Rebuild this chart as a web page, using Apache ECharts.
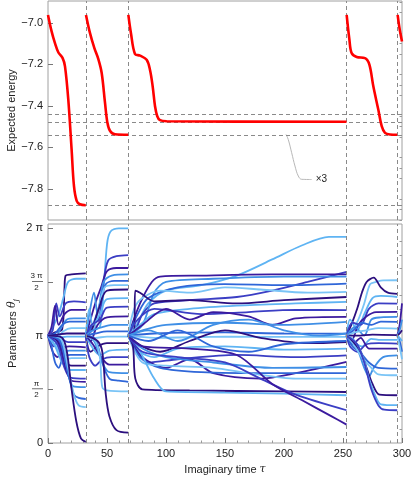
<!DOCTYPE html>
<html>
<head>
<meta charset="utf-8">
<script src="https://cdn.jsdelivr.net/npm/echarts@6/dist/echarts.min.js"></script>
<style>html,body{margin:0;padding:0;background:#fff}#c{width:415px;height:481px}</style>
</head>
<body>
<div id="c"></div>
<script>
// ---------- data ----------
const xTicks = [0, 50, 100, 150, 200, 250, 300];
const energyTicks = [-7.8, -7.6, -7.4, -7.2, -7.0];
const energyMinorTicks = [-7.95,-7.9,-7.85,-7.75,-7.7,-7.65,-7.55,-7.5,-7.45,-7.35,-7.3,-7.25,-7.15,-7.1,-7.05,-6.95,-6.9];
const thetaTicks = [0, 0.5, 1, 1.5, 2];           // in units of pi
const thetaMinorTicks = [0.125,0.25,0.375,0.625,0.75,0.875,1.125,1.25,1.375,1.625,1.75,1.875];
const restartTimes = [32, 68, 253, 296];
const energyLevels = [-7.438, -7.477, -7.539, -7.88];

const energy1 = [[0,-6.962],[3,-7.04],[5.9,-7.098],[8.8,-7.143],[12.4,-7.17],[14.4,-7.21],[17.2,-7.37],[20,-7.61],[22,-7.786],[24.3,-7.858],[27,-7.874],[32,-7.879]];
const energy2 = [[32.2,-6.962],[35.6,-7.05],[39.3,-7.122],[42.6,-7.174],[45.5,-7.242],[48.3,-7.385],[50.3,-7.48],[52.5,-7.52],[56.8,-7.537],[68,-7.539]];
const energy3 = [[68.1,-6.962],[70.3,-7.05],[73.7,-7.15],[78,-7.158],[83.6,-7.178],[86.4,-7.226],[88.7,-7.306],[90.7,-7.402],[92.6,-7.45],[94.9,-7.469],[100.6,-7.474],[253,-7.477]];
const energy4 = [[253.1,-6.962],[255.4,-7.08],[257.3,-7.146],[261.6,-7.165],[268.6,-7.17],[272.3,-7.2],[275.7,-7.306],[279.9,-7.418],[282.8,-7.498],[285.6,-7.53],[289.8,-7.538],[296,-7.539]];
const energy5 = [[296.3,-6.962],[298,-7.03],[300,-7.09]];
const calloutPath = [[201.7,-7.538],[203.6,-7.562],[206.5,-7.626],[209.3,-7.69],[212.1,-7.738],[215,-7.754],[223.5,-7.755]];
const calloutText = '×3';

const theta1 = [
 [[0,1],[6,1.03],[12,1.06],[14,1.45],[15,1.56],[20,1.57],[32,1.58]],
 [[0,1],[5,1.1],[9,1.2],[13,1.35],[17,1.5],[24,1.53],[32,1.53]],
 [[0,1],[4,1.05],[7,1.3],[10,1.18],[15,1.3],[22,1.32],[32,1.31]],
 [[0,1],[3,1.08],[6,1.28],[9,1.1],[14,1.2],[20,1.24],[32,1.24]],
 [[0,1],[5,0.95],[10,1.05],[16,1.15],[22,1.16],[32,1.16]],
 [[0,1],[6,1.02],[12,1.1],[18,1.13],[32,1.13]],
 [[0,1],[7,0.97],[13,1.04],[20,1.07],[32,1.07]],
 [[0,1],[8,1.01],[16,1.02],[32,1.02]],
 [[0,1],[8,0.98],[16,0.99],[32,0.99]],
 [[0,1],[5,0.9],[10,0.97],[17,0.94],[32,0.94]],
 [[0,1],[4,0.85],[8,0.8],[12,0.88],[18,0.9],[32,0.89]],
 [[0,1],[6,0.95],[12,0.85],[18,0.86],[32,0.86]],
 [[0,1],[3,0.9],[6,0.75],[9,0.7],[13,0.8],[19,0.82],[32,0.82]],
 [[0,1],[7,0.9],[14,0.78],[20,0.79],[32,0.79]],
 [[0,1],[8,0.95],[14,0.76],[20,0.72],[32,0.72]],
 [[0,1],[6,0.9],[12,0.75],[18,0.68],[32,0.68]],
 [[0,1],[8,0.92],[14,0.7],[19,0.61],[32,0.6]],
 [[0,1],[9,0.95],[15,0.7],[20,0.58],[32,0.57]],
 [[0,1],[10,0.97],[16,0.7],[21,0.53],[32,0.52]],
 [[0,1],[10,0.95],[17,0.65],[22,0.45],[26,0.42],[32,0.41]],
 [[0,1],[11,0.97],[17,0.7],[22,0.45],[26,0.35],[32,0.335]],
 [[0,1],[12,0.98],[16,0.85],[20,0.5],[24,0.2],[28,0.04],[32,0.01]]
];
const theta2 = [
 [[32,1],[38,1.05],[44,1.08],[47,1.4],[50,1.85],[53,1.97],[60,2.0],[68,2.0]],
 [[32,1],[37,1.1],[43,1.15],[47,1.5],[51,1.7],[58,1.74],[68,1.75]],
 [[32,1],[36,1.15],[40,1.3],[45,1.45],[50,1.6],[58,1.63],[68,1.63]],
 [[32,1],[35,1.2],[39,1.4],[42,1.2],[47,1.5],[54,1.56],[68,1.57]],
 [[32,1],[38,1.1],[44,1.3],[49,1.48],[56,1.51],[68,1.51]],
 [[32,1],[36,0.95],[42,1.2],[48,1.45],[56,1.47],[68,1.47]],
 [[32,1],[37,1.05],[43,1.25],[50,1.42],[68,1.43]],
 [[32,1],[35,1.25],[38,1.1],[44,1.2],[50,1.34],[68,1.35]],
 [[32,1],[37,1.1],[44,1.15],[50,1.26],[68,1.27]],
 [[32,1],[36,0.95],[42,1.1],[50,1.17],[68,1.18]],
 [[32,1],[38,1.05],[46,1.08],[54,1.1],[68,1.1]],
 [[32,1],[40,1.02],[50,1.04],[68,1.04]],
 [[32,1],[40,0.98],[50,0.99],[68,0.99]],
 [[32,1],[36,0.85],[42,0.9],[50,0.93],[68,0.93]],
 [[32,1],[37,0.9],[44,0.82],[52,0.86],[68,0.87]],
 [[32,1],[35,0.8],[40,0.72],[46,0.78],[54,0.8],[68,0.8]],
 [[32,1],[38,0.92],[45,0.8],[52,0.73],[68,0.73]],
 [[32,1],[39,0.95],[46,0.75],[52,0.66],[68,0.65]],
 [[32,1],[40,0.97],[46,0.75],[52,0.6],[60,0.58],[68,0.57]],
 [[32,1],[40,0.95],[44,0.8],[46,0.52],[50,0.49],[68,0.48]],
 [[32,1],[42,0.95],[46,0.85],[49,0.45],[52,0.25],[58,0.12],[68,0.096]]
];
const theta3 = [
 [[68,1],[75,1.1],[85,1.3],[100,1.42],[130,1.47],[160,1.56],[190,1.71],[215,1.84],[238,1.92],[253,1.92]],
 [[68,1],[74,1.05],[80,1.2],[90,1.3],[120,1.33],[160,1.36],[190,1.42],[220,1.5],[253,1.594]],
 [[68,1],[78,1.3],[88,1.5],[95,1.55],[130,1.56],[190,1.57],[253,1.57]],
 [[68,1],[80,1.1],[90,1.4],[100,1.5],[140,1.53],[200,1.55],[253,1.55]],
 [[68,1],[76,1.2],[85,1.35],[110,1.45],[150,1.48],[200,1.47],[253,1.485]],
 [[68,1],[73,1.25],[80,1.35],[95,1.42],[120,1.4],[150,1.45],[180,1.43],[220,1.4],[253,1.407]],
 [[68,1],[73,1.02],[74,1.42],[78,1.4],[90,1.32],[120,1.33],[160,1.3],[200,1.33],[253,1.36]],
 [[68,1],[78,1.1],[90,1.2],[120,1.25],[160,1.28],[210,1.3],[253,1.314]],
 [[68,1],[76,1.15],[90,1.25],[130,1.2],[170,1.22],[210,1.24],[253,1.237]],
 [[68,1],[80,1.1],[100,1.25],[120,1.15],[140,1.22],[170,1.18],[190,1.1],[210,1.16],[253,1.174]],
 [[68,1],[80,1.05],[100,1.1],[150,1.12],[200,1.1],[253,1.128]],
 [[68,1],[90,1.02],[150,1.03],[200,1.02],[253,1.019]],
 [[68,1],[90,0.98],[150,0.99],[253,0.988]],
 [[68,1],[80,0.9],[95,0.85],[120,0.95],[150,1.05],[180,0.98],[220,0.93],[253,0.941]],
 [[68,1],[78,0.85],[90,0.8],[110,0.88],[150,0.9],[200,0.87],[253,0.879]],
 [[68,1],[75,0.85],[85,0.75],[110,0.78],[160,0.82],[210,0.8],[253,0.817]],
 [[68,1],[80,0.8],[100,0.7],[120,0.78],[140,0.65],[180,0.6],[210,0.65],[253,0.755]],
 [[68,1],[80,0.88],[100,0.8],[140,0.75],[190,0.7],[253,0.708]],
 [[68,1],[78,0.8],[95,0.7],[130,0.66],[190,0.65],[253,0.65]],
 [[68,1],[80,0.75],[100,0.72],[140,0.7],[170,0.65],[210,0.6],[253,0.6]],
 [[68,1],[72,0.9],[74,0.6],[80,0.5],[120,0.49],[200,0.48],[253,0.475]],
 [[68,1],[78,0.85],[90,0.6],[100,0.48],[150,0.47],[200,0.46],[253,0.445]],
 [[68,1],[80,0.85],[110,0.8],[150,0.75],[180,0.6],[210,0.45],[253,0.305]],
 [[68,1],[80,0.9],[120,0.88],[160,0.82],[190,0.55],[215,0.4],[240,0.25],[253,0.171]],
 [[68,1],[85,1.05],[110,0.95],[140,1.1],[170,1.15],[200,1.05],[230,1.0],[253,1.02]],
 [[68,1],[85,0.95],[110,1.05],[140,0.9],[170,0.85],[200,0.92],[253,0.95]]
];
const theta4 = [
 [[253,1],[258,1.05],[263,1.15],[268,1.3],[273,1.48],[278,1.5],[284,1.515],[296,1.516]],
 [[253,1],[257,1.1],[262,1.25],[266,1.4],[270,1.5],[276,1.54],[282,1.45],[288,1.4],[296,1.39]],
 [[253,1],[256,1.15],[262,1.05],[268,1.2],[275,1.35],[282,1.37],[296,1.36]],
 [[253,1],[258,1.12],[265,1.1],[272,1.25],[280,1.3],[296,1.298]],
 [[253,1],[257,0.95],[263,1.1],[270,1.18],[278,1.22],[296,1.221]],
 [[253,1],[260,1.08],[268,1.0],[274,1.15],[282,1.17],[296,1.174]],
 [[253,1],[259,1.05],[266,1.12],[274,1.1],[282,1.13],[296,1.128]],
 [[253,1],[260,1.03],[270,1.05],[280,1.07],[296,1.066]],
 [[253,1],[262,1.0],[275,1.01],[296,1.004]],
 [[253,1],[258,0.95],[266,0.9],[274,0.97],[282,0.96],[296,0.96]],
 [[253,1],[256,0.9],[262,0.85],[270,0.92],[280,0.93],[296,0.926]],
 [[253,1],[258,0.92],[265,0.98],[272,0.88],[282,0.88],[296,0.879]],
 [[253,1],[256,0.95],[262,0.88],[268,0.7],[272,0.62],[276,0.7],[284,0.8],[296,0.817]],
 [[253,1],[258,0.9],[264,0.85],[272,0.75],[280,0.7],[296,0.693]],
 [[253,1],[259,0.92],[266,0.8],[274,0.7],[280,0.64],[296,0.631]],
 [[253,1],[258,0.95],[265,0.85],[270,0.7],[275,0.55],[281,0.45],[296,0.445]],
 [[253,1],[260,0.95],[267,0.8],[272,0.6],[277,0.45],[282,0.36],[296,0.352]],
 [[253,1],[262,0.92],[268,0.75],[274,0.5],[280,0.35],[285,0.31],[296,0.305]]
];
const theta5 = [
 [[296,1],[298,1.1],[300,1.3]],
 [[296,1],[298,1.05],[300,1.15]],
 [[296,1],[298,0.95],[300,0.85]],
 [[296,1],[298,0.9],[300,0.78]],
 [[296,1],[298,1.02],[300,1.05]],
 [[296,1],[298,0.98],[300,0.95]]
];

// ---------- styles ----------
const palette = ['#2c0f7e','#5fb4f3','#3b3ec4','#3b1a9e','#3f8fe6','#2f66d8','#7ac4f6'];
const FONT = 'Liberation Sans, Arial, sans-serif';
const TXT = '#222';
const FRAME = '#a0a0a0';
const DASH = '#8a8a8a';

const chart = echarts.init(document.getElementById('c'), null, {renderer: 'canvas'});

const series = [];
series.push({
  type: 'line', xAxisIndex: 0, yAxisIndex: 0, data: [], silent: true, z: 1,
  markLine: {
    silent: true, symbol: 'none', animation: false,
    label: {show: false},
    lineStyle: {color: DASH, type: [4, 3], width: 1},
    data: restartTimes.map(t => ({xAxis: t})).concat(energyLevels.map(e => ({yAxis: e})))
  }
});
series.push({
  type: 'line', xAxisIndex: 1, yAxisIndex: 2, data: [], silent: true, z: 1,
  markLine: {
    silent: true, symbol: 'none', animation: false,
    label: {show: false},
    lineStyle: {color: DASH, type: [4, 3], width: 1},
    data: restartTimes.map(t => ({xAxis: t}))
  }
});
[energy1, energy2, energy3, energy4, energy5].forEach(seg => {
  series.push({
    type: 'line', xAxisIndex: 0, yAxisIndex: 0, data: seg, smooth: 0.35,
    showSymbol: false, symbol: 'none', z: 5,
    lineStyle: {color: '#ff0000', width: 2.6}
  });
});
series.push({
  type: 'line', xAxisIndex: 0, yAxisIndex: 0, smooth: 0.4, symbol: 'none', z: 4,
  lineStyle: {color: '#b8b8b8', width: 1},
  data: calloutPath,
  endLabel: {show: true, formatter: calloutText, distance: 4, color: TXT, fontSize: 10, fontFamily: FONT}
});
let k = 0;
[theta1, theta2, theta3, theta4, theta5].forEach(seg => {
  seg.forEach(path => {
    series.push({
      type: 'line', xAxisIndex: 1, yAxisIndex: 2, data: path, smooth: 0.3,
      symbol: 'none', z: 3,
      lineStyle: {color: palette[k % palette.length], width: 1.8}
    });
    k++;
  });
});

const labelStyle = {color: TXT, fontSize: 11, fontFamily: FONT};
const piLabel = v => {
  if (v === 0) return '0';
  if (v === 0.5) return '{n|π}\n{b| }\n{d|2}';
  if (v === 1) return 'π';
  if (v === 1.5) return '{n|3 π}\n{b| }\n{d|2}';
  if (v === 2) return '2 π';
  return '';
};

const option = {
  animation: false,
  backgroundColor: '#fff',
  grid: [
    {left: 48, right: 13, top: 1, height: 219, containLabel: false, outerBoundsMode: 'none', show: true, borderColor: FRAME, borderWidth: 1, backgroundColor: 'transparent'},
    {left: 48, right: 13, top: 224, height: 219, containLabel: false, outerBoundsMode: 'none', show: true, borderColor: FRAME, borderWidth: 1, backgroundColor: 'transparent'}
  ],
  xAxis: [
    {type: 'value', gridIndex: 0, min: 0, max: 300, interval: 50,
     axisLine: {show: false}, axisTick: {show: false}, axisLabel: {show: false}, splitLine: {show: false}},
    {type: 'value', gridIndex: 1, min: 0, max: 300, interval: 50,
     name: '{a|Imaginary time }{t|τ}', nameLocation: 'middle', nameGap: 21, nameMoveOverlap: false,
     nameTextStyle: {rich: {a: {fontSize: 11, fontFamily: FONT, color: TXT}, t: {fontSize: 11, fontFamily: 'DejaVu Serif', fontStyle: 'italic', color: TXT}}},
     axisLine: {show: false},
     axisTick: {show: true, inside: true, length: 5, lineStyle: {color: '#777'}},
     minorTick: {show: true, splitNumber: 5, length: 2.5, lineStyle: {color: '#999'}},
     axisLabel: Object.assign({margin: 5, formatter: v => String(v)}, labelStyle),
     splitLine: {show: false}}
  ],
  yAxis: [
    {type: 'value', gridIndex: 0, min: -7.95, max: -6.895,
     name: 'Expected energy', nameLocation: 'middle', nameGap: 31, nameMoveOverlap: false,
     nameTextStyle: {fontSize: 11, fontFamily: FONT, color: TXT},
     axisLine: {show: false},
     axisTick: {show: true, inside: true, length: 5, customValues: energyTicks, lineStyle: {color: '#777'}},
     axisLabel: Object.assign({margin: 5, customValues: energyTicks, formatter: v => v.toFixed(1).replace('-', '−')}, labelStyle),
     splitLine: {show: false}},
    {type: 'value', gridIndex: 0, min: -7.95, max: -6.895,
     axisLine: {show: false},
     axisTick: {show: true, inside: true, length: 2.5, customValues: energyMinorTicks, lineStyle: {color: '#999'}},
     axisLabel: {show: false}, splitLine: {show: false}},
    {type: 'value', gridIndex: 1, min: 0, max: 2.04,
     name: '{a|Parameters }{t|θ}{s|j}', nameLocation: 'middle', nameGap: 28, nameMoveOverlap: false,
     nameTextStyle: {rich: {
       a: {fontSize: 11, fontFamily: FONT, color: TXT, lineHeight: 15},
       t: {fontSize: 11, fontFamily: 'DejaVu Serif', fontStyle: 'italic', color: TXT, lineHeight: 15},
       s: {fontSize: 8, fontFamily: 'DejaVu Serif', fontStyle: 'italic', color: TXT, verticalAlign: 'bottom', lineHeight: 9}
     }},
     axisLine: {show: false},
     axisTick: {show: true, inside: true, length: 5, customValues: thetaTicks, lineStyle: {color: '#777'}},
     axisLabel: Object.assign({margin: 5, customValues: thetaTicks, formatter: piLabel,
       rich: {
         n: {fontSize: 8, fontFamily: FONT, color: TXT, width: 13, align: 'center', lineHeight: 8},
         b: {width: 11, height: 0.7, lineHeight: 3, backgroundColor: '#333', fontSize: 1},
         d: {fontSize: 8, fontFamily: FONT, color: TXT, width: 13, align: 'center', lineHeight: 9}
       }}, labelStyle),
     splitLine: {show: false}},
    {type: 'value', gridIndex: 1, min: 0, max: 2.04,
     axisLine: {show: false},
     axisTick: {show: true, inside: true, length: 2.5, customValues: thetaMinorTicks, lineStyle: {color: '#999'}},
     axisLabel: {show: false}, splitLine: {show: false}}
  ],
  series: series
};
chart.setOption(option);
</script>
</body>
</html>
